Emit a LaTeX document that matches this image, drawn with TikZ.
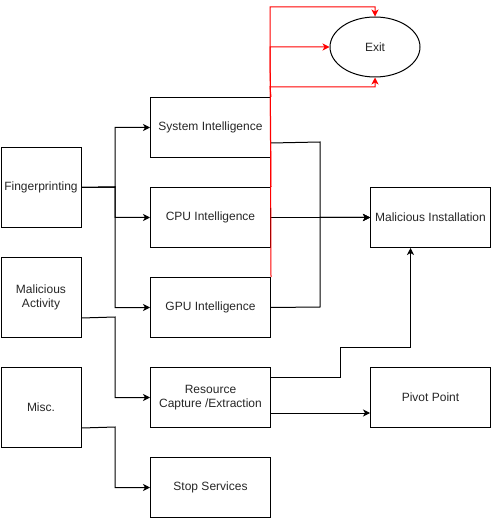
\documentclass[tikz,border=0pt]{standalone}
\usepackage{fontspec}
\setmainfont{Liberation Sans}
\usetikzlibrary{arrows.meta,shapes.geometric,calc}
\begin{document}
\begin{tikzpicture}[x=1pt,y=-1pt,font=\fontsize{12}{14}\selectfont,
  box/.style={draw,line width=1pt,minimum width=120pt,minimum height=60pt,inner sep=0pt,align=center,anchor=north west,text=black!85},
  lbox/.style={box,minimum width=80pt,minimum height=80pt},
  conn/.style={line width=1pt,-{Stealth[length=7pt,width=7pt,inset=2pt]}},
  rconn/.style={conn,draw=red,color=red}]
\useasboundingbox (0,0) rectangle (491,518);
\node[lbox] (fp) at (0.5,147) {Fingerprinting};
\node[lbox] (ma) at (0.5,257) {Malicious\\Activity};
\node[lbox] (misc) at (0.5,367) {Misc.};
\node[box] (sys) at (150,97) {System Intelligence};
\node[box] (cpu) at (150,187) {CPU Intelligence};
\node[box] (gpu) at (150,277) {GPU Intelligence};
\node[box] (res) at (150,367) {Resource\\Capture /Extraction};
\node[box] (stop) at (150,457) {Stop Services};
\node[box] (mi) at (370,187) {Malicious Installation};
\node[box] (pv) at (370,367) {Pivot Point};
\node[draw,line width=1pt,ellipse,minimum width=90pt,minimum height=60pt,inner sep=0pt,text=black!85] (exit) at (375,47) {Exit};
\coordinate (fpj) at (115,187);
\coordinate (maj) at (115,317);
\coordinate (mij) at (115,427);
% left connectors
\draw[conn] (fp.east) -- (fpj) |- (sys.west);
\draw[conn] (fp.east) -- (fpj) |- (cpu.west);
\draw[conn] (fp.east) -- (fpj) |- (gpu.west);
\draw[conn] ($(ma.south east)+(0,-20)$) -- (maj) |- (res.west);
\draw[conn] ($(misc.south east)+(0,-20)$) -- (mij) |- (stop.west);
% to malicious installation
\coordinate (sj) at (320,142);
\coordinate (gj) at (320,307);
\draw[conn] ($(sys.south east)+(0,-15)$) -- (sj) |- (mi.west);
\draw[conn] (cpu.east) -- (mi.west);
\draw[conn] (gpu.east) -- (gj) |- (mi.west);
\coordinate (ra) at (340,377);
\coordinate (rb) at (340,347);
\coordinate (mis) at ($(mi.south)+(-20,0)$);
\draw[conn] ($(res.north east)+(0,10)$) -- (ra) -- (rb) -| (mis);
\coordinate (rp) at ($(res.south east)+(0,-15)$);
\draw[conn] (rp) -- (pv.west |- rp);
% red exits
\coordinate (t1) at (270,7);
\coordinate (t2) at (270,47);
\coordinate (t3) at (270,87);
\draw[rconn] (gpu.north east) -- (t1) -| (exit.north);
\draw[rconn] (cpu.north east) -- (t2) -- (exit.west);
\draw[rconn] (sys.north east) -- (t3) -| (exit.south);
\end{tikzpicture}
\end{document}
